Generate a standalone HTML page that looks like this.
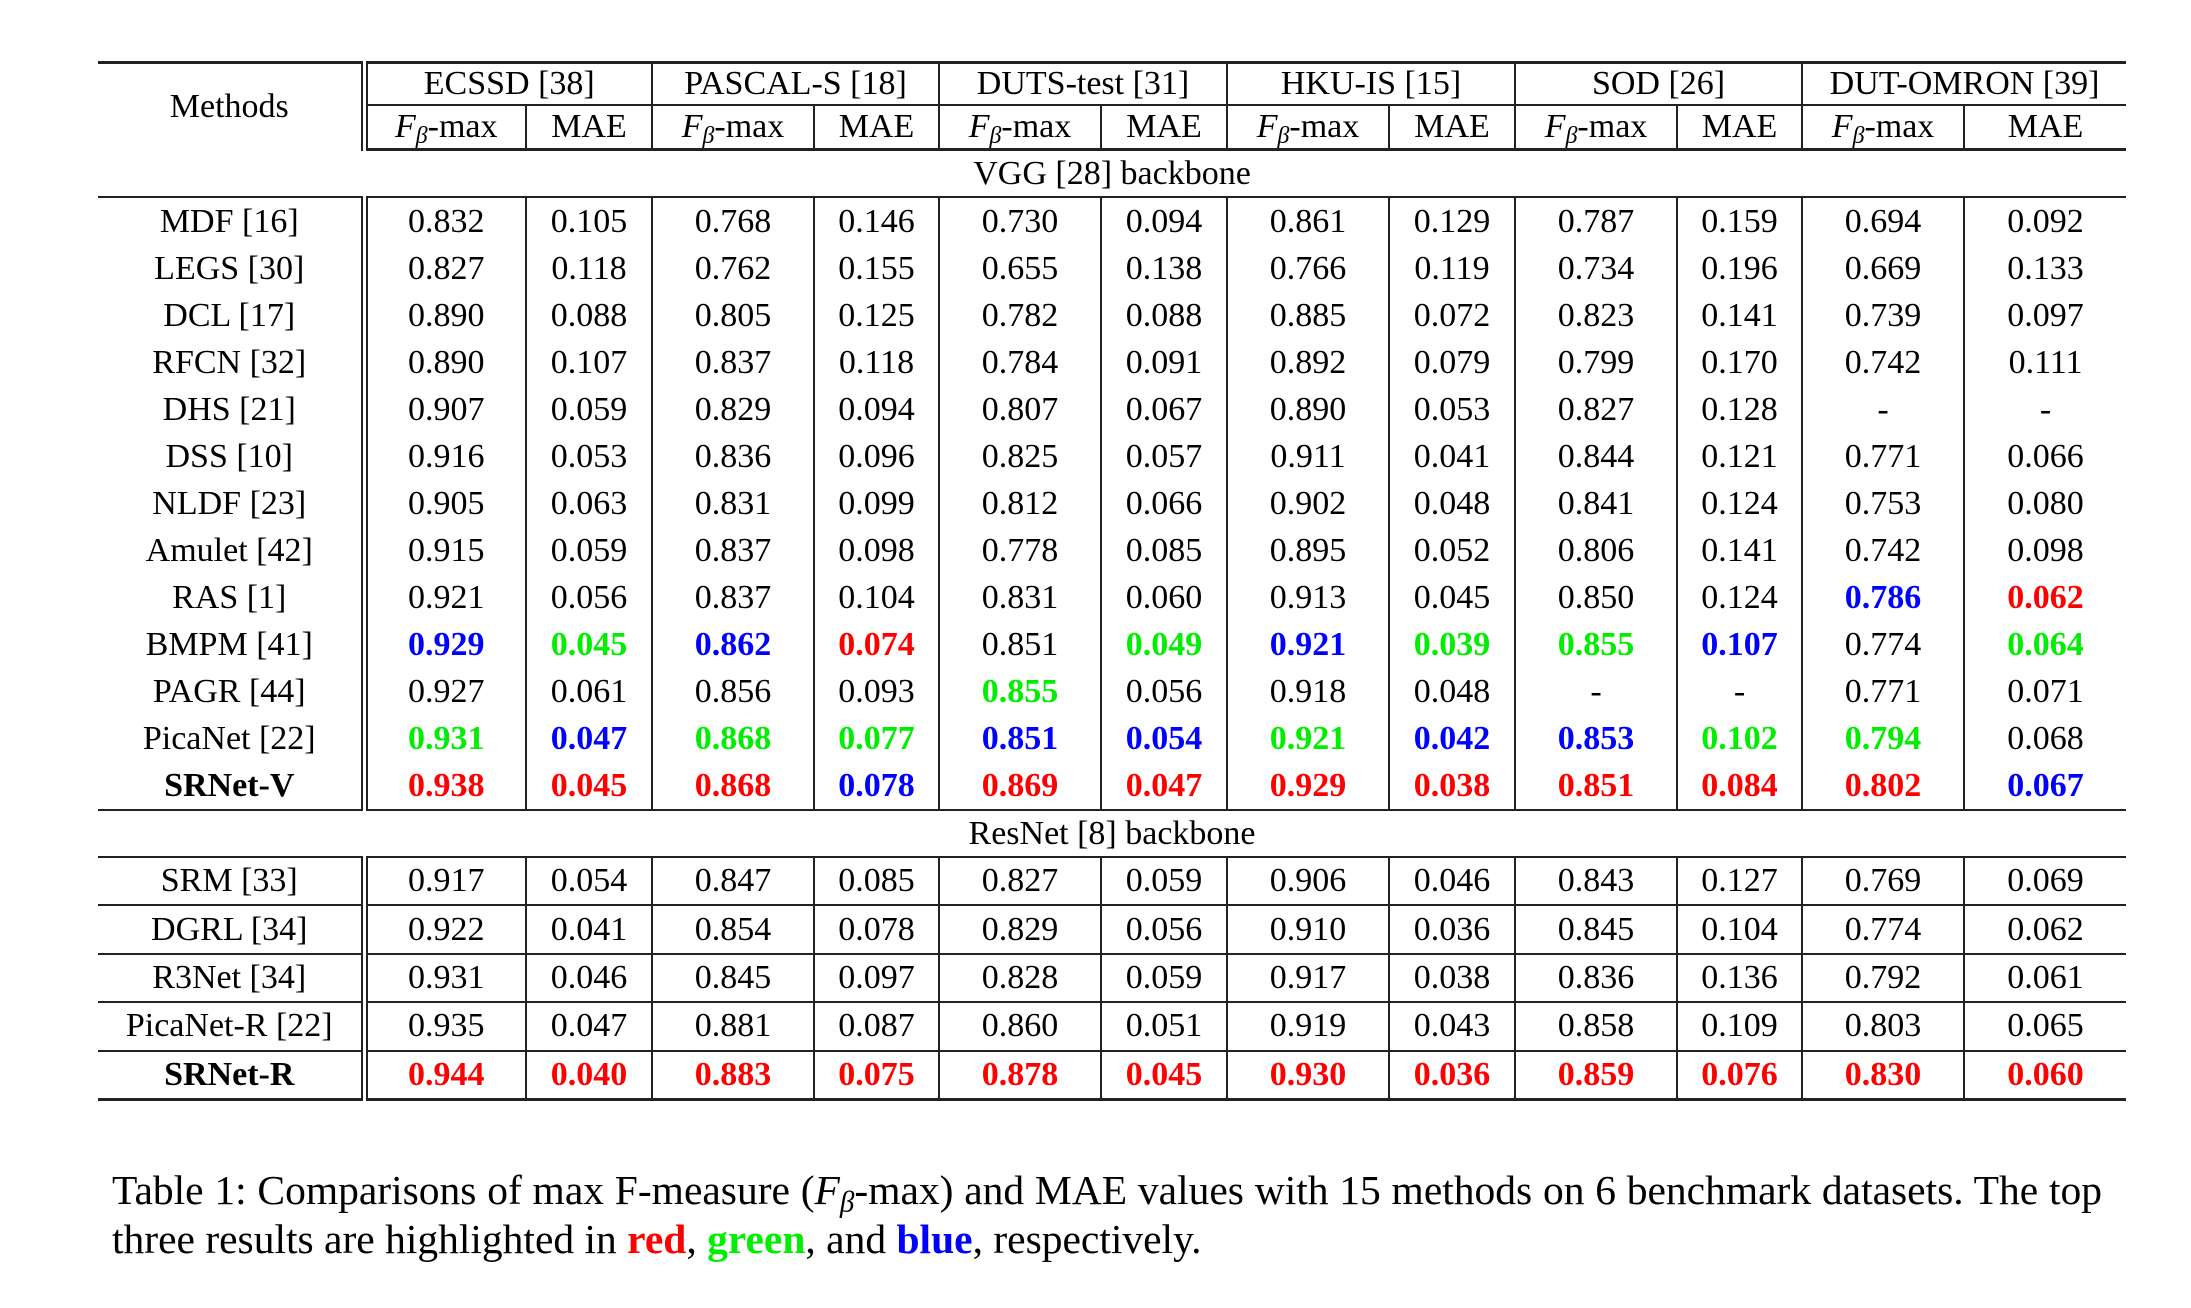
<!DOCTYPE html>
<html><head><meta charset="utf-8"><style>
html,body{margin:0;padding:0;background:#fff;}
body{width:2191px;height:1308px;position:relative;overflow:hidden;font-family:"Liberation Serif",serif;color:#000;}
table{position:absolute;left:98px;top:61px;border-collapse:collapse;table-layout:fixed;width:2028px;font-size:34px;}
td{text-align:center;vertical-align:middle;padding:0;white-space:nowrap;border-left:2px solid #222;}
td.m{border-left:none;border-right:7px double #222;}
tr.top td{border-top:3px solid #222;}
tr.h1 td{height:40px;}
tr.h2 td{height:42px;border-top:2px solid #222;}
tr.h2 td{border-bottom:3px solid #222;}
tr.sec td{height:45px;border:none;border-bottom:2px solid #222;}
tr.v td{height:47px;}
tr.r td{height:46.4px;border-top:2px solid #222;}
tr.last td{border-bottom:3px solid #222;}
i{font-style:italic;}
sub{font-size:0.7em;vertical-align:-0.25em;line-height:0;font-style:italic;}
.R{color:#ff0000;font-weight:bold;}
.G{color:#00ee00;font-weight:bold;}
.B{color:#0000ff;font-weight:bold;}
b{font-weight:bold;}
.cap{position:absolute;left:112px;width:1990px;font-size:41.5px;line-height:49px;top:1166px;text-align:justify;text-align-last:left;}
</style></head><body>
<table>
<colgroup><col style="width:266px"><col style="width:162px"><col style="width:126px"><col style="width:162px"><col style="width:125px"><col style="width:162px"><col style="width:126px"><col style="width:162px"><col style="width:126px"><col style="width:162px"><col style="width:125px"><col style="width:162px"><col style="width:162px"></colgroup>
<tr class="top h1"><td class="m" rowspan="2">Methods</td><td colspan="2">ECSSD [38]</td><td colspan="2">PASCAL-S [18]</td><td colspan="2">DUTS-test [31]</td><td colspan="2">HKU-IS [15]</td><td colspan="2">SOD [26]</td><td colspan="2">DUT-OMRON [39]</td></tr>
<tr class="h2"><td><i>F</i><sub>β</sub>-max</td><td>MAE</td><td><i>F</i><sub>β</sub>-max</td><td>MAE</td><td><i>F</i><sub>β</sub>-max</td><td>MAE</td><td><i>F</i><sub>β</sub>-max</td><td>MAE</td><td><i>F</i><sub>β</sub>-max</td><td>MAE</td><td><i>F</i><sub>β</sub>-max</td><td>MAE</td></tr>
<tr class="sec"><td colspan="13">VGG [28] backbone</td></tr>
<tr class="v"><td class="m">MDF [16]</td><td>0.832</td><td>0.105</td><td>0.768</td><td>0.146</td><td>0.730</td><td>0.094</td><td>0.861</td><td>0.129</td><td>0.787</td><td>0.159</td><td>0.694</td><td>0.092</td></tr>
<tr class="v"><td class="m">LEGS [30]</td><td>0.827</td><td>0.118</td><td>0.762</td><td>0.155</td><td>0.655</td><td>0.138</td><td>0.766</td><td>0.119</td><td>0.734</td><td>0.196</td><td>0.669</td><td>0.133</td></tr>
<tr class="v"><td class="m">DCL [17]</td><td>0.890</td><td>0.088</td><td>0.805</td><td>0.125</td><td>0.782</td><td>0.088</td><td>0.885</td><td>0.072</td><td>0.823</td><td>0.141</td><td>0.739</td><td>0.097</td></tr>
<tr class="v"><td class="m">RFCN [32]</td><td>0.890</td><td>0.107</td><td>0.837</td><td>0.118</td><td>0.784</td><td>0.091</td><td>0.892</td><td>0.079</td><td>0.799</td><td>0.170</td><td>0.742</td><td>0.111</td></tr>
<tr class="v"><td class="m">DHS [21]</td><td>0.907</td><td>0.059</td><td>0.829</td><td>0.094</td><td>0.807</td><td>0.067</td><td>0.890</td><td>0.053</td><td>0.827</td><td>0.128</td><td>-</td><td>-</td></tr>
<tr class="v"><td class="m">DSS [10]</td><td>0.916</td><td>0.053</td><td>0.836</td><td>0.096</td><td>0.825</td><td>0.057</td><td>0.911</td><td>0.041</td><td>0.844</td><td>0.121</td><td>0.771</td><td>0.066</td></tr>
<tr class="v"><td class="m">NLDF [23]</td><td>0.905</td><td>0.063</td><td>0.831</td><td>0.099</td><td>0.812</td><td>0.066</td><td>0.902</td><td>0.048</td><td>0.841</td><td>0.124</td><td>0.753</td><td>0.080</td></tr>
<tr class="v"><td class="m">Amulet [42]</td><td>0.915</td><td>0.059</td><td>0.837</td><td>0.098</td><td>0.778</td><td>0.085</td><td>0.895</td><td>0.052</td><td>0.806</td><td>0.141</td><td>0.742</td><td>0.098</td></tr>
<tr class="v"><td class="m">RAS [1]</td><td>0.921</td><td>0.056</td><td>0.837</td><td>0.104</td><td>0.831</td><td>0.060</td><td>0.913</td><td>0.045</td><td>0.850</td><td>0.124</td><td class="B">0.786</td><td class="R">0.062</td></tr>
<tr class="v"><td class="m">BMPM [41]</td><td class="B">0.929</td><td class="G">0.045</td><td class="B">0.862</td><td class="R">0.074</td><td>0.851</td><td class="G">0.049</td><td class="B">0.921</td><td class="G">0.039</td><td class="G">0.855</td><td class="B">0.107</td><td>0.774</td><td class="G">0.064</td></tr>
<tr class="v"><td class="m">PAGR [44]</td><td>0.927</td><td>0.061</td><td>0.856</td><td>0.093</td><td class="G">0.855</td><td>0.056</td><td>0.918</td><td>0.048</td><td>-</td><td>-</td><td>0.771</td><td>0.071</td></tr>
<tr class="v"><td class="m">PicaNet [22]</td><td class="G">0.931</td><td class="B">0.047</td><td class="G">0.868</td><td class="G">0.077</td><td class="B">0.851</td><td class="B">0.054</td><td class="G">0.921</td><td class="B">0.042</td><td class="B">0.853</td><td class="G">0.102</td><td class="G">0.794</td><td>0.068</td></tr>
<tr class="v"><td class="m"><b>SRNet-V</b></td><td class="R">0.938</td><td class="R">0.045</td><td class="R">0.868</td><td class="B">0.078</td><td class="R">0.869</td><td class="R">0.047</td><td class="R">0.929</td><td class="R">0.038</td><td class="R">0.851</td><td class="R">0.084</td><td class="R">0.802</td><td class="B">0.067</td></tr>
<tr class="sec"><td colspan="13" style="border-top:2px solid #222">ResNet [8] backbone</td></tr>
<tr class="r"><td class="m">SRM [33]</td><td>0.917</td><td>0.054</td><td>0.847</td><td>0.085</td><td>0.827</td><td>0.059</td><td>0.906</td><td>0.046</td><td>0.843</td><td>0.127</td><td>0.769</td><td>0.069</td></tr>
<tr class="r"><td class="m">DGRL [34]</td><td>0.922</td><td>0.041</td><td>0.854</td><td>0.078</td><td>0.829</td><td>0.056</td><td>0.910</td><td>0.036</td><td>0.845</td><td>0.104</td><td>0.774</td><td>0.062</td></tr>
<tr class="r"><td class="m">R3Net [34]</td><td>0.931</td><td>0.046</td><td>0.845</td><td>0.097</td><td>0.828</td><td>0.059</td><td>0.917</td><td>0.038</td><td>0.836</td><td>0.136</td><td>0.792</td><td>0.061</td></tr>
<tr class="r"><td class="m">PicaNet-R [22]</td><td>0.935</td><td>0.047</td><td>0.881</td><td>0.087</td><td>0.860</td><td>0.051</td><td>0.919</td><td>0.043</td><td>0.858</td><td>0.109</td><td>0.803</td><td>0.065</td></tr>
<tr class="r last"><td class="m"><b>SRNet-R</b></td><td class="R">0.944</td><td class="R">0.040</td><td class="R">0.883</td><td class="R">0.075</td><td class="R">0.878</td><td class="R">0.045</td><td class="R">0.930</td><td class="R">0.036</td><td class="R">0.859</td><td class="R">0.076</td><td class="R">0.830</td><td class="R">0.060</td></tr>
</table>
<div class="cap">Table 1: Comparisons of max F-measure (<i>F</i><sub>β</sub>-max) and MAE values with 15 methods on 6 benchmark datasets. The top three results are highlighted in <span class="R">red</span>, <span class="G">green</span>, and <span class="B">blue</span>, respectively.</div>
</body></html>
